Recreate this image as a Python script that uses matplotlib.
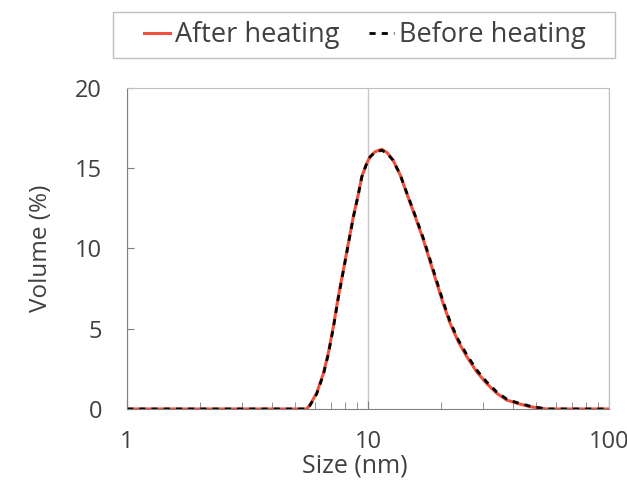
import matplotlib.pyplot as plt
from matplotlib.patches import Rectangle
from matplotlib.ticker import LogLocator, NullFormatter, FixedLocator

plt.rcParams['font.family'] = ['Open Sans', 'DejaVu Sans']

# size (nm) and volume (%)
size_after = [1.0, 2.0, 3.0, 4.0, 5.0, 5.57, 5.74, 6.12, 6.53, 6.84, 7.18, 7.53, 7.9,
              8.28, 8.69, 9.12, 9.42, 9.81, 10.19, 10.7, 11.4, 12.0, 12.7, 13.6, 14.5,
              15.7, 17.0, 18.1, 19.3, 20.5, 21.9, 23.7, 25.7, 28.2, 31.0, 34.2, 37.6,
              41.4, 47.0, 55.0, 70.0, 100.0]
vol_after = [0, 0, 0, 0, 0, 0, 0.25, 0.98, 2.22, 3.47, 5.13, 7.0, 8.66,
             10.3, 11.98, 13.4, 14.47, 15.2, 15.72, 16.03, 16.18, 15.97, 15.5, 14.58, 13.4,
             11.98, 10.5, 9.18, 7.83, 6.58, 5.34, 4.19, 3.26, 2.33, 1.6, 0.98, 0.56,
             0.36, 0.14, 0, 0, 0]

size_before = [1.0, 2.0, 3.0, 4.0, 5.0, 5.57, 5.74, 6.12, 6.53, 6.84, 7.18, 7.53, 7.9,
               8.28, 8.69, 9.12, 9.42, 9.81, 10.19, 10.7, 11.4, 12.0, 12.7, 13.6, 14.5,
               15.7, 17.0, 18.1, 19.3, 20.5, 21.9, 23.7, 25.7, 28.2, 31.0, 34.2, 37.6,
               41.4, 47.0, 55.0, 70.0, 100.0]
vol_before = [0, 0, 0, 0, 0, 0, 0.22, 0.93, 2.15, 3.4, 5.05, 6.93, 8.6,
              10.25, 11.95, 13.38, 14.45, 15.18, 15.7, 16.0, 16.12, 15.93, 15.5, 14.6, 13.45,
              12.05, 10.6, 9.3, 7.95, 6.7, 5.45, 4.3, 3.38, 2.44, 1.7, 1.06, 0.62,
              0.4, 0.18, 0, 0, 0]

fig = plt.figure(figsize=(6.27, 4.82), dpi=100)
ax = fig.add_axes([0.2026, 0.1515, 0.7687, 0.6659])

ax.plot(size_after, vol_after, color='#f0503c', lw=2.2, label='After heating')
ax.plot(size_before, vol_before, color='black', lw=2.0, ls=(0, (2.2, 2.2)),
        label='Before heating')

ax.set_xscale('log')
ax.set_xlim(1, 100)
ax.set_ylim(0, 20)
ax.set_yticks([0, 5, 10, 15, 20])
ax.xaxis.set_major_locator(FixedLocator([1, 10, 100]))
ax.xaxis.set_major_formatter(plt.FuncFormatter(lambda v, p: '%g' % v))
ax.xaxis.set_minor_locator(LogLocator(base=10, subs=range(2, 10)))
ax.xaxis.set_minor_formatter(NullFormatter())

ax.grid(True, axis='x', which='major', color='#c8c8c8', lw=1)
ax.tick_params(axis='both', which='both', direction='in', colors='#7f7f7f',
               labelcolor='#404040', labelsize=17)
ax.tick_params(axis='x', which='major', length=6, pad=15)
ax.tick_params(axis='x', which='minor', length=5)
ax.tick_params(axis='y', length=5, pad=18)

for s in ['left', 'bottom']:
    ax.spines[s].set_color('#808080')
for s in ['top', 'right']:
    ax.spines[s].set_color('#bfbfbf')

ax.set_xlabel('Size (nm)', fontsize=18, color='#404040', va='top')
ax.xaxis.set_label_coords(0.473, -0.14)
ax.set_ylabel('Volume (%)', fontsize=17.5, color='#404040', labelpad=16)

# legend box drawn by hand so the side padding matches
fig.patches.append(Rectangle((0.180, 0.8797), 0.8006, 0.0954, transform=fig.transFigure,
                             fill=False, edgecolor='#bfbfbf', lw=1))
leg = fig.legend(loc='center', bbox_to_anchor=(0.582, 0.9274), ncol=2,
                 fontsize=19.5, handlelength=0.93, handletextpad=0.18,
                 columnspacing=1.1, frameon=False, borderpad=0, borderaxespad=0)
for t in leg.get_texts():
    t.set_color('#404040')

plt.savefig('out.png', dpi=100)
